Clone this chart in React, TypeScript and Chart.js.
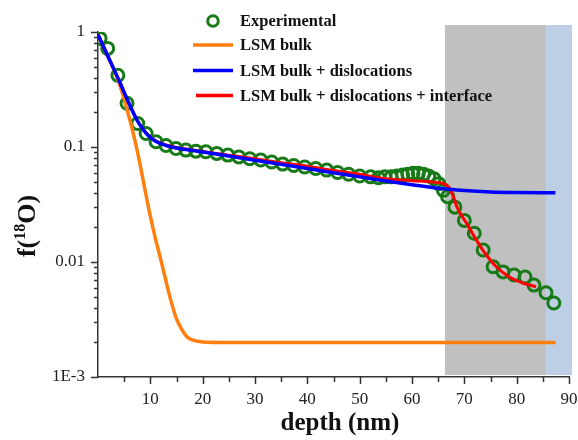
import React, { useEffect, useRef } from 'react';
import { Chart, registerables } from 'chart.js';

Chart.register(...registerables);

// ---------- data ----------
const expDepth = [0.4, 1.85, 3.8, 5.55, 7.6, 9.2, 11.1, 13.0, 14.9, 16.8, 18.7, 20.6, 22.7, 24.8, 26.9, 29.0, 31.1, 33.2, 35.3, 37.4, 39.5, 41.6, 43.7, 45.8, 47.9, 50.0, 52.1, 53.6, 54.8, 56.0, 57.1, 58.2, 59.2, 60.2, 61.2, 62.2, 63.2, 64.2, 65.1, 66.0, 66.8, 68.2, 70.0, 71.9, 73.6, 75.5, 77.4, 79.5, 81.6, 83.3, 85.6, 87.1];
const expValue = [0.88, 0.72, 0.42, 0.24, 0.16, 0.131, 0.111, 0.103, 0.097, 0.094, 0.092, 0.091, 0.088, 0.085, 0.082, 0.079, 0.077, 0.074, 0.071, 0.069, 0.067, 0.065, 0.063, 0.060, 0.058, 0.056, 0.055, 0.054, 0.055, 0.055, 0.056, 0.057, 0.058, 0.059, 0.059, 0.058, 0.056, 0.053, 0.048, 0.042, 0.037, 0.030, 0.023, 0.0178, 0.0127, 0.0091, 0.0082, 0.0077, 0.0074, 0.0063, 0.0054, 0.0044];

const bulkDepth = [0, 2, 3.5, 4.5, 6, 7, 8, 9, 10, 11, 12, 13, 14, 15, 16, 17, 18, 20, 25, 40, 60, 87.4];
const bulkValue = [0.95, 0.60, 0.42, 0.31, 0.178, 0.117, 0.072, 0.042, 0.025, 0.0158, 0.0105, 0.0068, 0.0045, 0.0032, 0.0026, 0.00224, 0.0021, 0.00202, 0.002, 0.002, 0.002, 0.002];

const dislDepth = [0, 2, 4, 6, 7.5, 8.5, 9.5, 11, 13, 15, 17.5, 21, 25, 30, 35, 40, 45, 50, 55, 60, 65, 70, 75, 80, 87.4];
const dislValue = [0.95, 0.60, 0.38, 0.235, 0.17, 0.145, 0.127, 0.112, 0.103, 0.098, 0.094, 0.089, 0.0834, 0.0767, 0.0706, 0.065, 0.0598, 0.055, 0.0507, 0.047, 0.0437, 0.0418, 0.0407, 0.0402, 0.040];

const intfDepth = [0, 2, 4, 6, 7.5, 8.5, 9.5, 11, 13, 15, 17.5, 21, 25, 30, 35, 40, 45, 50, 55, 60, 64, 66, 67, 67.8, 68.6, 70.4, 72.3, 74.2, 76.1, 78.6, 81.0, 83.7];
const intfValue = [0.95, 0.60, 0.38, 0.235, 0.17, 0.145, 0.128, 0.113, 0.104, 0.099, 0.095, 0.090, 0.085, 0.079, 0.073, 0.068, 0.0625, 0.058, 0.053, 0.051, 0.0495, 0.048, 0.045, 0.038, 0.030, 0.0218, 0.0155, 0.0115, 0.0091, 0.0074, 0.0066, 0.0061];

const xTickValues = [10, 20, 30, 40, 50, 60, 70, 80, 90];
const yTickValues = [0.001, 0.01, 0.1, 1];
const yTickLabels = ['1E-3', '0.01', '0.1', '1'];
const legendLabels = ['Experimental', 'LSM bulk', 'LSM bulk + dislocations', 'LSM bulk + dislocations + interface'];
const xTitle = 'depth (nm)';
const grayBand = [66.3, 85.6];
const blueBand = [85.6, 90];

const GREEN = '#177a17';
const ORANGE = '#ff7f0e';
const BLUE = '#0000ff';
const RED = '#ff0000';
const AXIS = '#333333';
const SERIF = '"Liberation Serif", "Times New Roman", serif';

const pts = (xs: number[], ys: number[]) => xs.map((x, i) => ({ x, y: ys[i] }));

const noPad = (s: any) => {
  s.paddingLeft = 0;
  s.paddingRight = 0;
  s.paddingTop = 0;
  s.paddingBottom = 0;
};

const decorPlugin = {
  id: 'decor',
  beforeDatasetsDraw(chart: any) {
    const { ctx, chartArea, scales } = chart;
    const x = scales.x;
    ctx.save();
    const top = chartArea.top - 7;
    const bottom = chartArea.bottom - 2;
    ctx.fillStyle = '#c0c0c0';
    const g0 = x.getPixelForValue(grayBand[0]);
    const g1 = x.getPixelForValue(grayBand[1]);
    ctx.fillRect(g0, top, g1 - g0, bottom - top);
    ctx.fillStyle = '#bccfe5';
    const b0 = x.getPixelForValue(blueBand[0]);
    const b1 = x.getPixelForValue(blueBand[1]) + 3;
    ctx.fillRect(b0, top, b1 - b0, bottom - top);
    ctx.restore();
  },
  afterDraw(chart: any) {
    const { ctx, chartArea, scales } = chart;
    const x = scales.x;
    const y = scales.y;
    ctx.save();
    // ticks
    ctx.strokeStyle = AXIS;
    ctx.lineWidth = 1.5;
    ctx.beginPath();
    for (let v = 5; v <= 90; v += 5) {
      const px = Math.round(x.getPixelForValue(v)) + 0.5;
      const len = v % 10 === 0 ? 7 : 5;
      ctx.moveTo(px, chartArea.bottom);
      ctx.lineTo(px, chartArea.bottom + len);
    }
    for (let e = -3; e <= 0; e++) {
      for (let m = 1; m <= 9; m++) {
        const v = m * Math.pow(10, e);
        if (v > 1.0001) break;
        const py = Math.round(y.getPixelForValue(v)) + 0.5;
        const len = m === 1 ? 7 : 4;
        ctx.moveTo(chartArea.left, py);
        ctx.lineTo(chartArea.left - len, py);
      }
    }
    ctx.stroke();

    // legend
    const lx = 240;
    const rows = [21, 45, 70.5, 95.5];
    ctx.font = `bold 16.5px ${SERIF}`;
    ctx.fillStyle = '#111';
    ctx.textBaseline = 'middle';
    ctx.textAlign = 'left';
    legendLabels.forEach((t, i) => ctx.fillText(t, lx, rows[i] + 1));
    ctx.beginPath();
    ctx.strokeStyle = GREEN;
    ctx.lineWidth = 3;
    ctx.arc(213, rows[0], 5.3, 0, Math.PI * 2);
    ctx.stroke();
    const lineColors = [ORANGE, BLUE, RED];
    lineColors.forEach((c, i) => {
      ctx.beginPath();
      ctx.strokeStyle = c;
      ctx.lineWidth = 3.5;
      ctx.moveTo(i === 2 ? 196 : 193, rows[i + 1]);
      ctx.lineTo(233, rows[i + 1]);
      ctx.stroke();
    });

    // x title
    ctx.fillStyle = '#111';
    ctx.font = `bold 25px ${SERIF}`;
    ctx.textAlign = 'center';
    ctx.textBaseline = 'alphabetic';
    ctx.fillText(xTitle, 340, 430);

    // y title f(18O)
    ctx.save();
    ctx.translate(35, 226);
    ctx.rotate(-Math.PI / 2);
    const big = `bold 26px ${SERIF}`;
    const small = `bold 16px ${SERIF}`;
    const parts: [string, string, number][] = [['f(', big, 0], ['18', small, -10], ['O)', big, 0]];
    let total = 0;
    parts.forEach(([t, f]) => { ctx.font = f; total += ctx.measureText(t).width; });
    let cx = -total / 2;
    ctx.textAlign = 'left';
    parts.forEach(([t, f, dy]) => {
      ctx.font = f;
      ctx.fillText(t, cx, dy);
      cx += ctx.measureText(t).width;
    });
    ctx.restore();
    ctx.restore();
  },
};

export default function App() {
  const ref = useRef<HTMLCanvasElement | null>(null);
  useEffect(() => {
    if (!ref.current) return;
    const chart = new Chart(ref.current, {
      type: 'scatter',
      data: {
        datasets: [
          {
            label: legendLabels[2],
            data: pts(dislDepth, dislValue),
            showLine: true,
            borderColor: BLUE,
            borderWidth: 3.5,
            pointRadius: 0,
            cubicInterpolationMode: 'monotone',
            order: 0,
          },
          {
            label: legendLabels[3],
            data: pts(intfDepth, intfValue),
            showLine: true,
            borderColor: RED,
            borderWidth: 3,
            pointRadius: 0,
            cubicInterpolationMode: 'monotone',
            order: 1,
          },
          {
            label: legendLabels[1],
            data: pts(bulkDepth, bulkValue),
            showLine: true,
            borderColor: ORANGE,
            borderWidth: 3.5,
            pointRadius: 0,
            cubicInterpolationMode: 'monotone',
            order: 2,
          },
          {
            label: legendLabels[0],
            data: pts(expDepth, expValue),
            showLine: false,
            pointRadius: 6,
            pointBorderWidth: 3,
            pointBorderColor: GREEN,
            pointBackgroundColor: 'rgba(0,0,0,0)',
            order: 3,
          },
        ] as any,
      },
      options: {
        responsive: false,
        animation: false,
        events: [],
        layout: { padding: { top: 32, right: 8, left: 0, bottom: 0 } },
        plugins: { legend: { display: false }, tooltip: { enabled: false } },
        scales: {
          x: {
            type: 'linear',
            min: 0,
            max: 90,
            afterBuildTicks: (s: any) => { s.ticks = xTickValues.map((v) => ({ value: v })); },
            afterFit: (s: any) => { s.height = 63; noPad(s); },
            ticks: {
              color: '#222',
              font: { family: SERIF, size: 17 },
              padding: 12,
              maxRotation: 0,
              autoSkip: false,
            },
            grid: { display: false, drawTicks: false },
            border: { display: true, color: AXIS, width: 1.5 },
          },
          y: {
            type: 'logarithmic',
            min: 0.001,
            max: 1,
            afterBuildTicks: (s: any) => { s.ticks = yTickValues.map((v) => ({ value: v })); },
            afterFit: (s: any) => { s.width = 98; noPad(s); },
            ticks: {
              color: '#222',
              font: { family: SERIF, size: 17 },
              padding: 13,
              autoSkip: false,
              callback: (v: any) => {
                const i = yTickValues.findIndex((t) => Math.abs(t - Number(v)) < t * 1e-6);
                return i >= 0 ? yTickLabels[i] : '';
              },
            },
            grid: { display: false, drawTicks: false },
            border: { display: true, color: AXIS, width: 1.5 },
          },
        },
      } as any,
      plugins: [decorPlugin],
    });
    return () => chart.destroy();
  }, []);
  return (
    <div style={{ position: 'fixed', left: 0, top: 0, width: 578, height: 440, background: '#fff' }}>
      <canvas ref={ref} width={578} height={440} style={{ width: 578, height: 440, display: 'block' }} />
    </div>
  );
}
